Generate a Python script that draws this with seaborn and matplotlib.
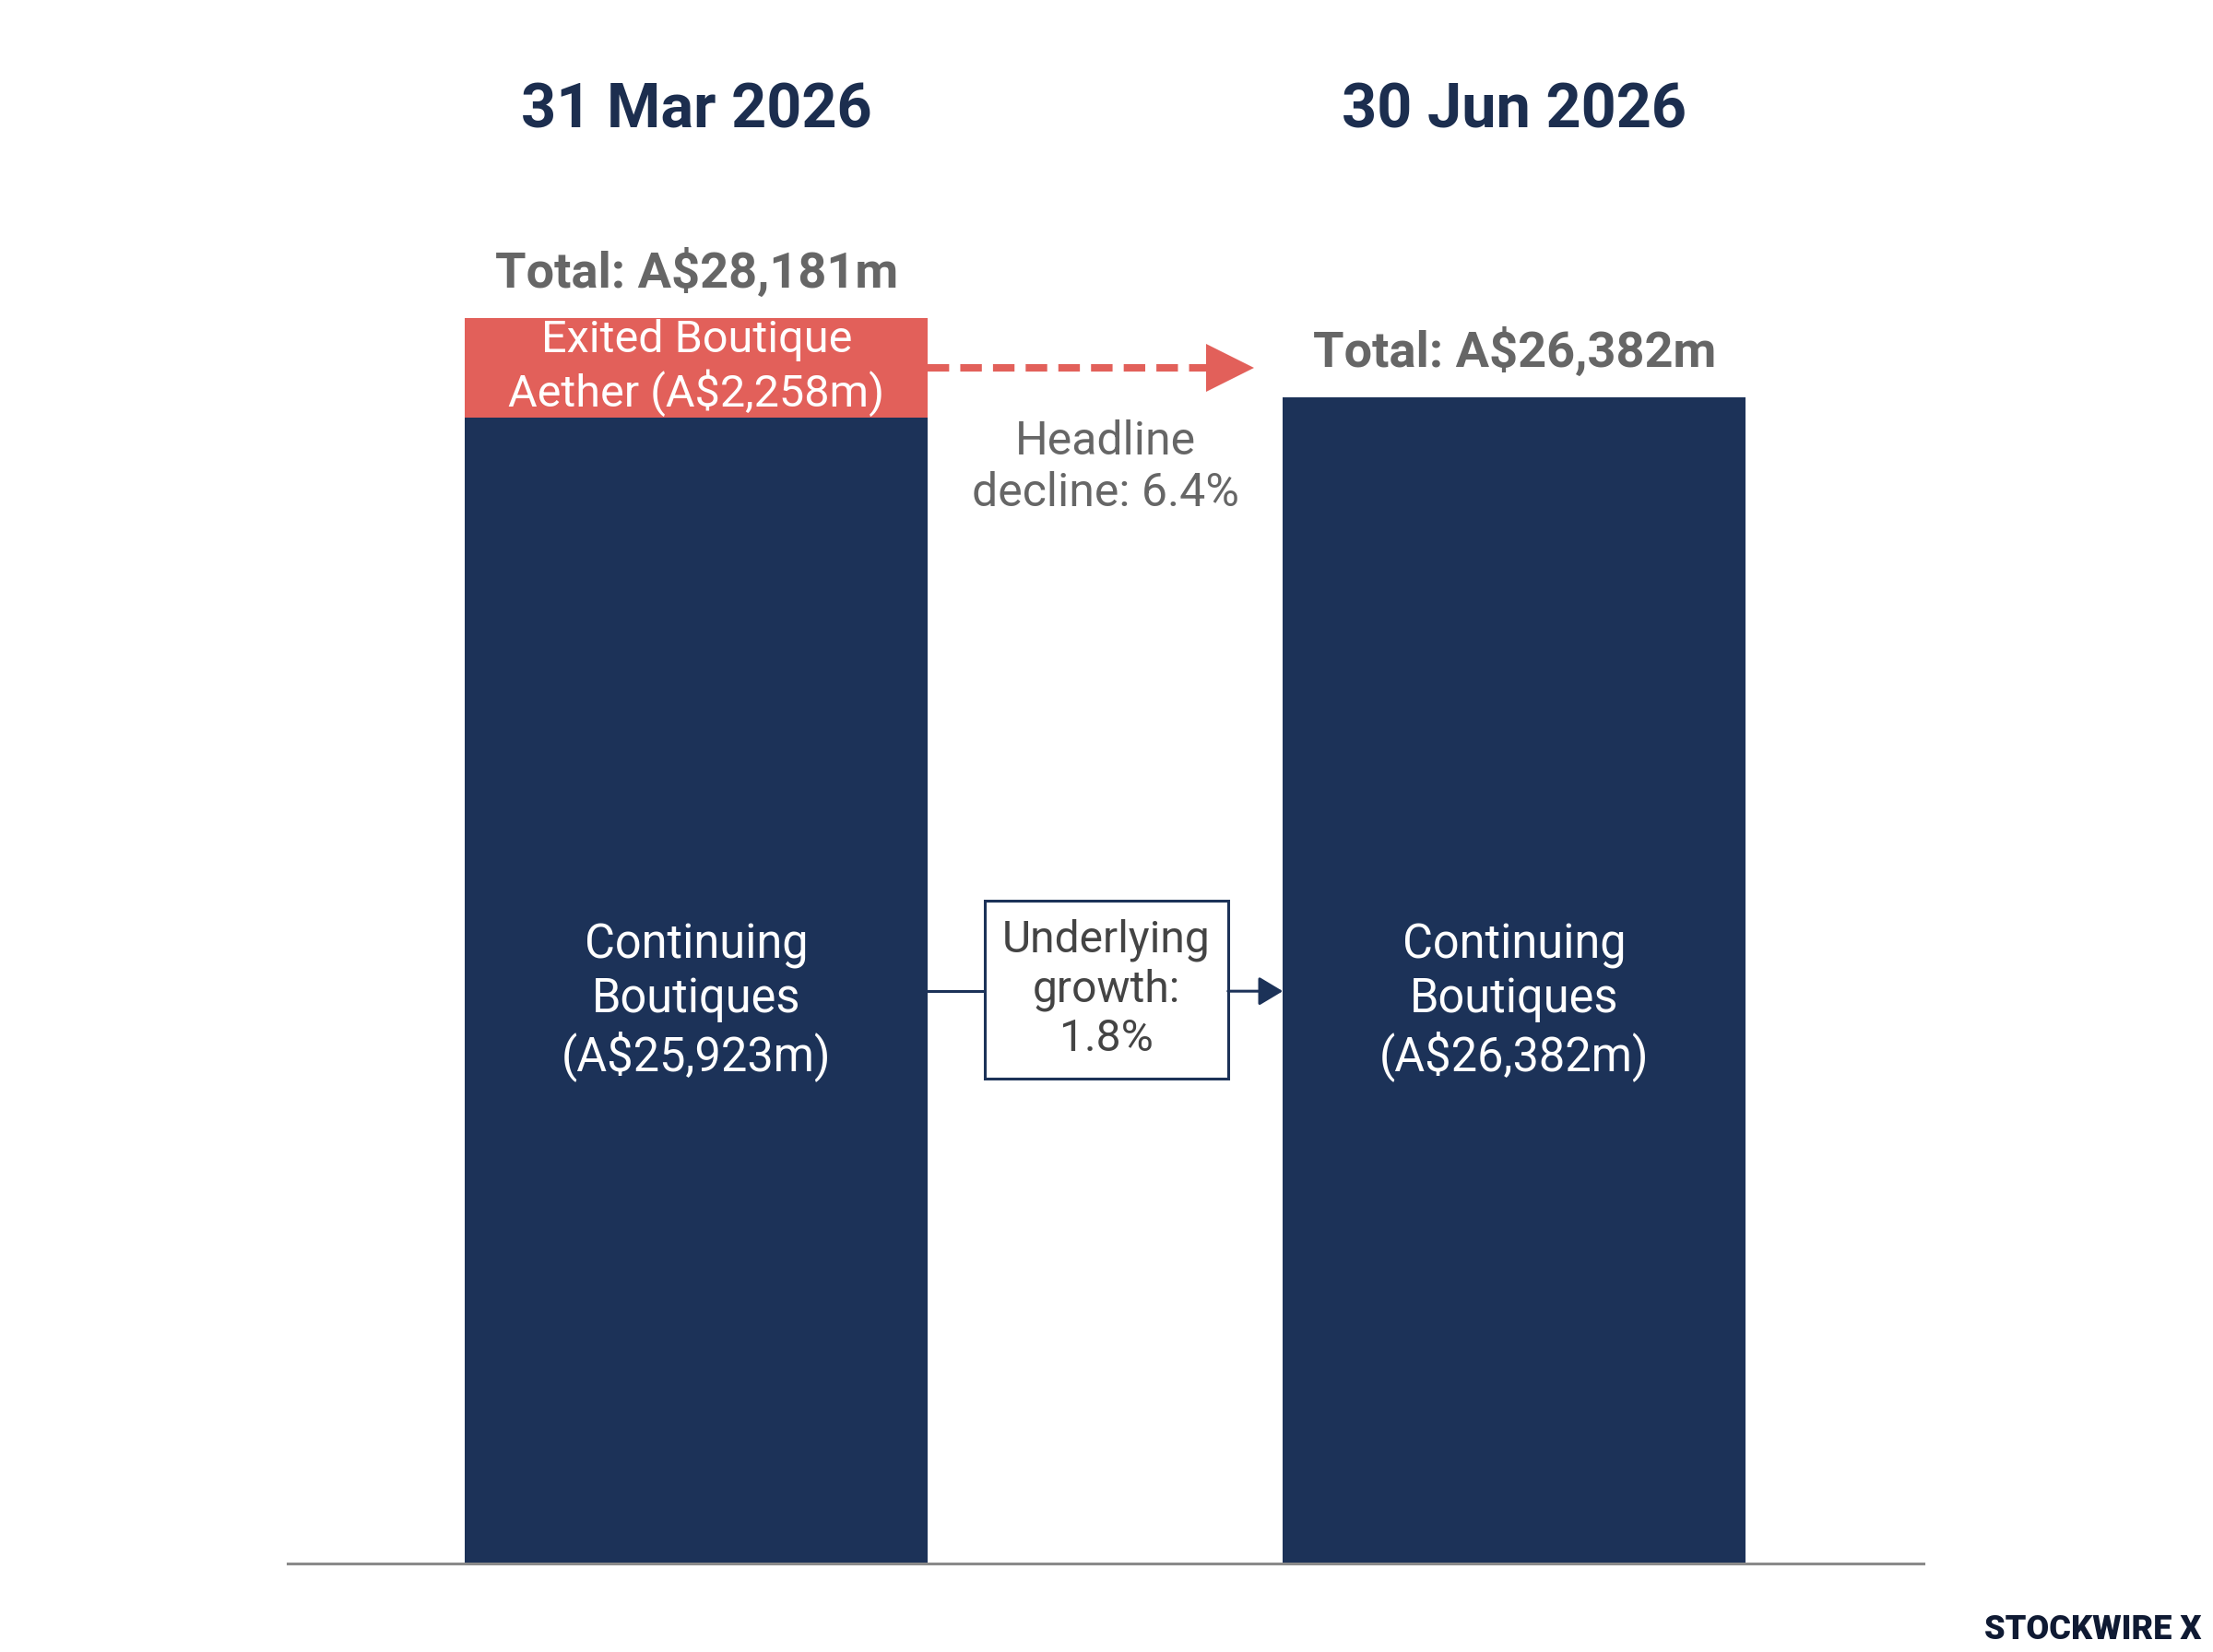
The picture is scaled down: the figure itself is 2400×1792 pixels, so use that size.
import matplotlib
matplotlib.use("Agg")
import matplotlib.pyplot as plt
import seaborn as sns
import numpy as np
from matplotlib.patches import Rectangle

# Chart data (A$m)
periods = ["31 Mar 2026", "30 Jun 2026"]
continuing = [25923, 26382]
exited = [2258, 0]
headline_change = -6.4   # %
underlying_growth = 1.8  # %

NAVY = "#1c3258"
RED = "#e2605a"
GREY = "#666666"
DARK = "#444444"

sns.set_theme(style="white")
plt.rcParams["font.family"] = ["Roboto", "DejaVu Sans"]

totals = [c + e for c, e in zip(continuing, exited)]
bar_w = 0.566

fig = plt.figure(figsize=(12, 8.96), dpi=200)
ax = fig.add_axes([0.13, 0.0536, 0.739, 0.856])

# stacked look: full totals in red, continuing part in navy over it
sns.barplot(x=periods, y=totals, color=RED, width=bar_w, saturation=1,
            linewidth=0, ax=ax)
sns.barplot(x=periods, y=continuing, color=NAVY, width=bar_w, saturation=1,
            linewidth=0, ax=ax)

ax.set_xlim(-0.5, 1.5)
ax.set_ylim(0, 32000)
ax.set_yticks([])
ax.set_ylabel("")
ax.set_xlabel("")
for side in ["left", "right", "top"]:
    ax.spines[side].set_visible(False)
ax.spines["bottom"].set_color("#8a8a8a")
ax.spines["bottom"].set_linewidth(1.1)

# period names as top tick labels
ax.xaxis.tick_top()
ax.tick_params(axis="x", length=0, pad=3.5, labelsize=24, labelcolor="#1c2e4f")
for lbl in ax.get_xticklabels():
    lbl.set_fontweight("bold")

# totals above bars
for i, t in enumerate(totals):
    ax.text(i, t + 700, f"Total: A${t:,}m", ha="center", va="baseline",
            fontsize=19.5, fontweight="bold", color=GREY)

# exited boutique label inside the red segment
mid_exit = continuing[0] + exited[0] / 2
ax.text(0, mid_exit, f"Exited Boutique\nAether (A${exited[0]:,}m)", ha="center",
        va="center", fontsize=17.5, color="white", linespacing=1.2)

# continuing labels
label_y = 12950
for i, c in enumerate(continuing):
    ax.text(i, label_y - 250, f"Continuing\nBoutiques\n(A${c:,}m)", ha="center",
            va="center", fontsize=18.2, color="white", linespacing=1.2)

# dashed headline arrow
x0 = bar_w / 2
ax.plot([x0, 0.625], [mid_exit, mid_exit], color=RED, lw=2.9,
        linestyle=(0, (2.9, 1.5)), solid_capstyle="butt", dash_capstyle="butt")
ax.plot([0.653], [mid_exit], marker=">", ms=19, color=RED, mec=RED, mew=0)
ax.text(0.5, 24800, f"Headline\ndecline: {abs(headline_change):.1f}%", ha="center",
        va="center", fontsize=18, color=GREY, linespacing=1.2)

# underlying growth box and connector
box_x0, box_x1 = 0.352, 0.650
box_y0, box_y1 = 10975, 15002
ax.add_patch(Rectangle((box_x0, box_y0), box_x1 - box_x0, box_y1 - box_y0,
                       facecolor="white", edgecolor=NAVY, lw=1.1, zorder=3))
ax.plot([x0, box_x0], [label_y, label_y], color=NAVY, lw=1.1)
ax.annotate("", xy=(1 - x0, label_y), xytext=(box_x1, label_y),
            arrowprops=dict(arrowstyle="-|>,head_length=0.5,head_width=0.3",
                            color=NAVY, lw=1.1, shrinkA=0, shrinkB=0,
                            mutation_scale=16))
ax.text((box_x0 + box_x1) / 2, (box_y0 + box_y1) / 2,
        f"Underlying\ngrowth:\n{underlying_growth:.1f}%", ha="center", va="center",
        fontsize=17.3, color=DARK, linespacing=1.2, zorder=4)

fig.text(0.995, 0.0134, "STOCKWIRE X", ha="right", va="center", fontsize=13,
         fontweight="black", color="#0f1a33")

fig.savefig("out.png", dpi=200, facecolor="white")
